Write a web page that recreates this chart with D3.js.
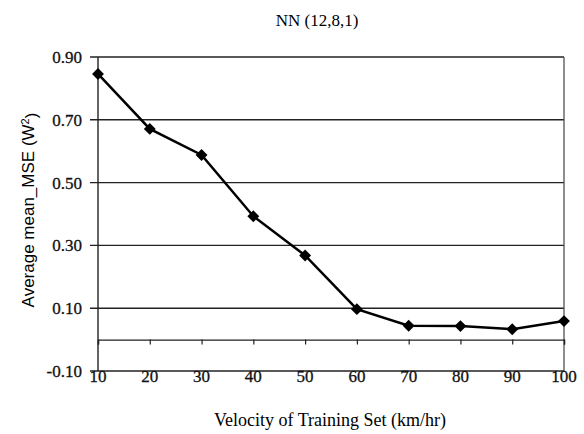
<!DOCTYPE html>
<html>
<head>
<meta charset="utf-8">
<script src="https://cdn.jsdelivr.net/npm/d3@7/dist/d3.min.js"></script>
<style>
body { margin: 0; background: #fff; }
svg { display: block; }
</style>
</head>
<body>
<svg width="584" height="434"></svg>
<script>
// data
var velocity = [10, 20, 30, 40, 50, 60, 70, 80, 90, 100];
var mse = [0.846, 0.671, 0.588, 0.393, 0.268, 0.097, 0.044, 0.043, 0.033, 0.059];
var yTicks = [-0.10, 0.10, 0.30, 0.50, 0.70, 0.90];
var xTicks = [10, 20, 30, 40, 50, 60, 70, 80, 90, 100];

var svg = d3.select("svg"),
    margin = {top: 57, right: 20, bottom: 63, left: 98},
    width = +svg.attr("width") - margin.left - margin.right,
    height = +svg.attr("height") - margin.top - margin.bottom;

var x = d3.scaleLinear().domain([10, 100]).range([0, width]),
    y = d3.scaleLinear().domain([-0.10, 0.90]).range([height, 0]);

var g = svg.append("g")
    .attr("transform", "translate(" + margin.left + "," + margin.top + ")");

var serif = "'Liberation Serif', 'Times New Roman', serif";
var fmt = d3.format(".2f");

// horizontal grid lines + left ticks
g.append("g")
    .selectAll("line")
    .data(yTicks)
    .enter().append("line")
    .attr("x1", -8)
    .attr("x2", width)
    .attr("y1", function(d) { return y(d); })
    .attr("y2", function(d) { return y(d); })
    .attr("stroke", "#222")
    .attr("stroke-width", 1.4);

// y tick labels (plain hyphen for the minus, as in the scan)
g.append("g")
    .selectAll("text")
    .data(yTicks)
    .enter().append("text")
    .attr("x", -16)
    .attr("y", function(d) { return y(d); })
    .attr("dy", "0.35em")
    .attr("text-anchor", "end")
    .style("font-family", serif)
    .style("font-size", "17px")
    .style("fill", "#111")
    .style("stroke", "#111").style("stroke-width", 0.3)
    .text(function(d) { return fmt(d).replace("\u2212", "-"); });

// left and right borders
g.append("line")
    .attr("x1", 0).attr("x2", 0)
    .attr("y1", 0).attr("y2", height)
    .attr("stroke", "#222").attr("stroke-width", 1.4);
g.append("line")
    .attr("x1", width).attr("x2", width)
    .attr("y1", 0).attr("y2", height)
    .attr("stroke", "#444").attr("stroke-width", 1.2);

// zero axis with small ticks
g.append("g")
    .attr("transform", "translate(0," + y(0) + ")")
    .call(d3.axisBottom(x).tickValues(xTicks).tickSize(5).tickFormat(""))
    .call(function(a) {
      a.select(".domain").attr("stroke", "#222").attr("stroke-width", 1.4);
      a.selectAll(".tick line").attr("stroke", "#222").attr("stroke-width", 1.2);
    });

// x tick labels along the bottom
g.append("g")
    .selectAll("text")
    .data(xTicks)
    .enter().append("text")
    .attr("x", function(d) { return x(d); })
    .attr("y", height + 11)
    .attr("text-anchor", "middle")
    .style("font-family", serif)
    .style("font-size", "17px")
    .style("fill", "#111")
    .style("stroke", "#111").style("stroke-width", 0.3)
    .text(function(d) { return d; });

// the line
var line = d3.line()
    .x(function(d, i) { return x(velocity[i]); })
    .y(function(d) { return y(d); });

g.append("path")
    .datum(mse)
    .attr("fill", "none")
    .attr("stroke", "#000")
    .attr("stroke-width", 2.5)
    .attr("d", line);

g.selectAll(".pt")
    .data(mse)
    .enter().append("path")
    .attr("class", "pt")
    .attr("transform", function(d, i) { return "translate(" + x(velocity[i]) + "," + y(d) + ")"; })
    .attr("d", d3.symbol().type(d3.symbolDiamond2).size(90))
    .attr("fill", "#000");

// title
svg.append("text")
    .attr("x", 317)
    .attr("y", 26)
    .attr("text-anchor", "middle")
    .style("font-family", serif)
    .style("font-size", "17px")
    .text("NN (12,8,1)");

// x label
svg.append("text")
    .attr("x", 330)
    .attr("y", 426)
    .attr("text-anchor", "middle")
    .style("font-family", serif)
    .style("font-size", "18px")
    .text("Velocity of Training Set (km/hr)");

// y label
var yl = svg.append("text")
    .attr("transform", "translate(34,210) rotate(-90)")
    .attr("text-anchor", "middle")
    .style("font-family", "'Liberation Sans', Arial, sans-serif")
    .style("font-size", "17px");
yl.append("tspan").text("Average mean_MSE (W");
yl.append("tspan").attr("dy", "-0.5em").style("font-size", "11px").text("2");
yl.append("tspan").attr("dy", "0.5em").text(")");
</script>
</body>
</html>
